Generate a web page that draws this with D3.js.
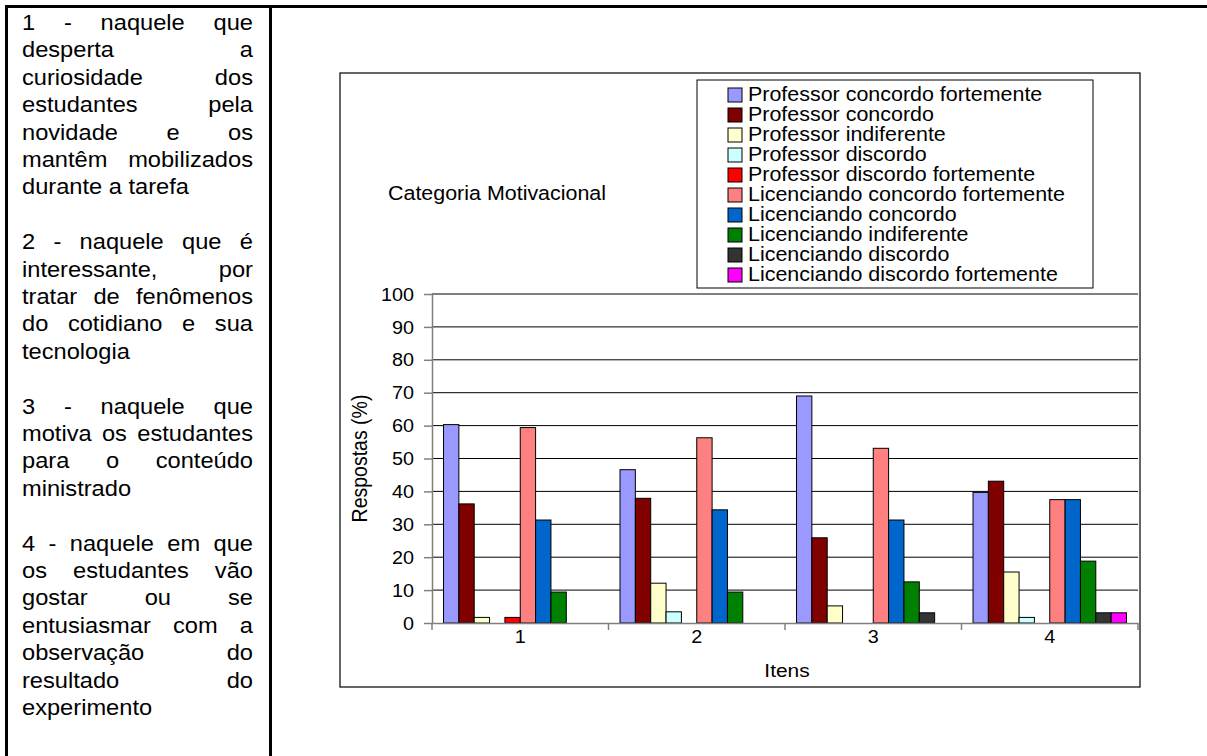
<!DOCTYPE html>
<html>
<head>
<meta charset="utf-8">
<script src="https://cdn.jsdelivr.net/npm/d3@7"></script>
<style>
  body { margin: 0; background: #fff; }
  svg { display: block; font-family: "Liberation Sans", Arial, sans-serif; }
</style>
</head>
<body>
<svg></svg>
<script>
// itens do eixo x
const items = ['1', '2', '3', '4'];

const seriesNames = [
  'Professor concordo fortemente',
  'Professor concordo',
  'Professor indiferente',
  'Professor discordo',
  'Professor discordo fortemente',
  'Licenciando concordo fortemente',
  'Licenciando concordo',
  'Licenciando indiferente',
  'Licenciando discordo',
  'Licenciando discordo fortemente'
];
const seriesColors = ['#9999ff', '#800000', '#ffffcc', '#ccffff', '#ff0000',
                      '#ff8080', '#0066cc', '#008000', '#333333', '#ff00ff'];

// respostas (%) por item
const profConcFort = [60.3, 46.6, 69.0, 39.7];
const profConc     = [36.2, 37.9, 25.9, 43.1];
const profIndif    = [1.7, 12.1, 5.2, 15.5];
const profDisc     = [0, 3.4, 0, 1.7];
const profDiscFort = [1.7, 0, 0, 0];
const licConcFort  = [59.4, 56.3, 53.1, 37.5];
const licConc      = [31.3, 34.4, 31.3, 37.5];
const licIndif     = [9.4, 9.4, 12.5, 18.8];
const licDisc      = [0, 0, 3.1, 3.1];
const licDiscFort  = [0, 0, 0, 3.1];

const yTicks = [0, 10, 20, 30, 40, 50, 60, 70, 80, 90, 100];

const notes = [
  ['1 - naquele que', 'desperta a', 'curiosidade dos', 'estudantes pela', 'novidade e os',
   'mantêm mobilizados', 'durante a tarefa'],
  ['2 - naquele que é', 'interessante, por', 'tratar de fenômenos', 'do cotidiano e sua', 'tecnologia'],
  ['3 - naquele que', 'motiva os estudantes', 'para o conteúdo', 'ministrado'],
  ['4 - naquele em que', 'os estudantes vão', 'gostar ou se', 'entusiasmar com a',
   'observação do', 'resultado do', 'experimento']
];

const seriesValues = [profConcFort, profConc, profIndif, profDisc, profDiscFort,
                      licConcFort, licConc, licIndif, licDisc, licDiscFort];

const W = 1207, H = 756;
const sx = 1.1; // texto um pouco largo na imagem original

const svg = d3.select('svg').attr('width', W).attr('height', H);

// moldura da tabela
svg.append('line').attr('x1', 5).attr('x2', W).attr('y1', 6.5).attr('y2', 6.5)
  .attr('stroke', '#000').attr('stroke-width', 3);
svg.append('line').attr('x1', 6.5).attr('x2', 6.5).attr('y1', 5).attr('y2', H)
  .attr('stroke', '#000').attr('stroke-width', 3);
svg.append('line').attr('x1', 270.5).attr('x2', 270.5).attr('y1', 5).attr('y2', H)
  .attr('stroke', '#000').attr('stroke-width', 3);

// texto justificado da coluna esquerda
const noteFont = 21.5;
const colW = 231 / sx;
const noteG = svg.append('g').attr('transform', `translate(22,0) scale(${sx},1)`);
const measure = noteG.append('text').attr('font-size', noteFont);
const wordW = w => measure.text(w).node().getComputedTextLength();

let lineNo = 0;
notes.forEach(par => {
  par.forEach((line, li) => {
    const base = 30 + 27.4 * lineNo;
    const words = line.split(' ');
    const last = li === par.length - 1;
    if (last || words.length === 1) {
      noteG.append('text').attr('x', 0).attr('y', base)
        .attr('font-size', noteFont).attr('fill', '#000').text(line);
    } else {
      const widths = words.map(wordW);
      const gap = (colW - d3.sum(widths)) / (words.length - 1);
      let x = 0;
      words.forEach((w, i) => {
        noteG.append('text').attr('x', x).attr('y', base)
          .attr('font-size', noteFont).attr('fill', '#000').text(w);
        x += widths[i] + gap;
      });
    }
    lineNo++;
  });
  lineNo++;
});
measure.remove();

// area do grafico
svg.append('rect').attr('x', 340).attr('y', 73).attr('width', 800).attr('height', 614)
  .attr('fill', 'none').attr('stroke', '#333').attr('stroke-width', 1.5);

const plotL = 432, plotR = 1138, plotT = 294, plotB = 623;

const x0 = d3.scaleBand().domain(items).range([plotL, plotR]);
const x1 = d3.scaleBand().domain(seriesNames).range([0, x0.bandwidth()])
  .paddingInner(0).paddingOuter(0.75);
const y = d3.scaleLinear().domain([0, 100]).range([plotB, plotT]);

// linhas de grade
svg.append('g').selectAll('line').data(yTicks.filter(d => d > 0)).join('line')
  .attr('x1', plotL).attr('x2', plotR)
  .attr('y1', d => y(d)).attr('y2', d => y(d))
  .attr('stroke', '#000').attr('stroke-width', 1);

// barras
const groups = svg.append('g').selectAll('g').data(items).join('g')
  .attr('transform', d => `translate(${x0(d)},0)`);
groups.selectAll('rect')
  .data((d, i) => seriesNames.map((s, k) => ({ s, k, v: seriesValues[k][i] })).filter(e => e.v > 0))
  .join('rect')
  .attr('x', e => x1(e.s))
  .attr('y', e => y(e.v))
  .attr('width', x1.bandwidth())
  .attr('height', e => y(0) - y(e.v))
  .attr('fill', e => seriesColors[e.k])
  .attr('stroke', '#000').attr('stroke-width', 1);

// eixo y
const yAxis = svg.append('g').attr('transform', `translate(${plotL},0)`)
  .call(d3.axisLeft(y).tickValues(yTicks).tickSize(8).tickSizeOuter(0));
yAxis.select('.domain').attr('stroke', '#808080').attr('stroke-width', 1.5);
yAxis.selectAll('.tick line').attr('stroke', '#808080').attr('stroke-width', 1.5);
yAxis.selectAll('.tick text')
  .attr('x', null).attr('dy', '0.34em')
  .attr('transform', `translate(-18,0) scale(${sx},1)`)
  .attr('font-size', 18).attr('font-family', null).attr('fill', '#000');

// eixo x
const xAxis = svg.append('g').attr('transform', `translate(0,${plotB})`)
  .call(d3.axisBottom(x0).tickSize(0).tickSizeOuter(0));
xAxis.select('.domain').attr('stroke', '#808080').attr('stroke-width', 1.5);
xAxis.selectAll('.tick text')
  .attr('y', null).attr('dy', null)
  .attr('transform', `translate(0,20) scale(${sx},1)`)
  .attr('font-size', 18).attr('font-family', null).attr('fill', '#000');
svg.append('g').selectAll('line').data(items.map(d => x0(d)).concat([plotR])).join('line')
  .attr('x1', d => d).attr('x2', d => d)
  .attr('y1', plotB).attr('y2', plotB + 7)
  .attr('stroke', '#808080').attr('stroke-width', 1.5);

// titulos
svg.append('text').attr('transform', `translate(${(plotL + plotR) / 2 + 2},677) scale(${sx},1)`)
  .attr('text-anchor', 'middle').attr('font-size', 19).text('Itens');
svg.append('text')
  .attr('transform', `translate(367,${(plotT + plotB) / 2}) rotate(-90) scale(1,${sx})`)
  .attr('text-anchor', 'middle').attr('font-size', 19.5).text('Respostas (%)');
svg.append('text').attr('transform', `translate(388,200) scale(${sx},1)`)
  .attr('font-size', 19.5).text('Categoria Motivacional');

// legenda
svg.append('rect').attr('x', 697).attr('y', 80).attr('width', 396).attr('height', 208)
  .attr('fill', '#fff').attr('stroke', '#000').attr('stroke-width', 1);
const leg = svg.append('g').selectAll('g').data(seriesNames).join('g')
  .attr('transform', (d, i) => `translate(728,${88 + 20 * i})`);
leg.append('rect').attr('width', 14).attr('height', 14)
  .attr('fill', (d, i) => seriesColors[i]).attr('stroke', '#000').attr('stroke-width', 1);
leg.append('text').attr('transform', `translate(20,12.7) scale(${sx},1)`)
  .attr('font-size', 19.5).text(d => d);
</script>
</body>
</html>
